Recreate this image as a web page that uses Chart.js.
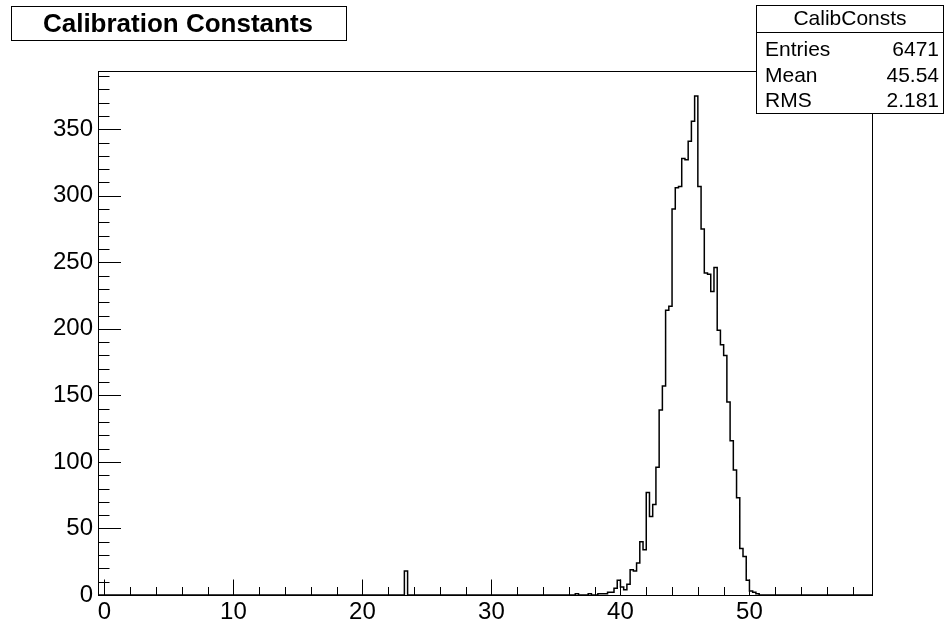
<!DOCTYPE html>
<html>
<head>
<meta charset="utf-8">
<script src="https://cdn.jsdelivr.net/npm/chart.js@4.4.0/dist/chart.umd.min.js"></script>
<style>
  html, body { margin: 0; padding: 0; background: #fff; }
  #wrap { width: 945px; height: 621px; }
</style>
</head>
<body>
<div id="wrap"><canvas id="histo" width="945" height="621"></canvas></div>
<script>
// histogram "CalibConsts": 240 bins of 0.25 from -0.5 to 59.5, only filled bins listed
const binWidth = 0.25;
const xRange = [-0.5, 59.5];
const yMax = 393.75;
const binLow = [
  23.25,
  36.5, 36.75, 37, 37.25, 37.5, 37.75, 38, 38.25, 38.5, 38.75,
  39, 39.25, 39.5, 39.75, 40, 40.25, 40.5, 40.75, 41, 41.25,
  41.5, 41.75, 42, 42.25, 42.5, 42.75, 43, 43.25, 43.5, 43.75,
  44, 44.25, 44.5, 44.75, 45, 45.25, 45.5, 45.75, 46, 46.25,
  46.5, 46.75, 47, 47.25, 47.5, 47.75, 48, 48.25, 48.5, 48.75,
  49, 49.25, 49.5, 49.75, 50, 50.25, 50.5
];
const counts = [
  18,
  1, 0, 0, 0, 1, 0, 0, 1, 1, 1,
  2, 2, 5, 11, 6, 4, 8, 19, 18, 24,
  40, 34, 77, 59, 68, 96, 139, 157, 214, 217,
  290, 306, 307, 328, 327, 341, 356, 375, 307, 275,
  242, 241, 228, 246, 199, 188, 180, 145, 116, 94,
  73, 35, 29, 11, 3, 2, 1
];
const xTickValues = [0, 10, 20, 30, 40, 50];
const yTickValues = [0, 50, 100, 150, 200, 250, 300, 350];
const statNames = ['Entries', 'Mean', 'RMS'];
const statValues = ['6471', '45.54', '2.181'];
const histName = 'CalibConsts';
const histTitle = 'Calibration Constants';

// outline points for a stepped line (value holds from left edge to next point)
const points = [{ x: xRange[0], y: 0 }];
binLow.forEach((lo, i) => {
  points.push({ x: lo, y: counts[i] });
  const next = binLow[i + 1];
  if (next === undefined || Math.abs(next - (lo + binWidth)) > 1e-6) {
    points.push({ x: lo + binWidth, y: 0 });
  }
});
points.push({ x: xRange[1], y: 0 });

const FONT = "'Liberation Sans', Arial, Helvetica, sans-serif";

const rootFrame = {
  id: 'rootFrame',
  afterDraw(chart) {
    const { ctx, chartArea: a, scales: { x, y } } = chart;
    ctx.save();
    ctx.strokeStyle = '#000';
    ctx.lineWidth = 1;
    ctx.strokeRect(Math.round(a.left) + 0.5, Math.round(a.top) + 0.5,
      Math.round(a.right - a.left), Math.round(a.bottom - a.top));

    // ticks drawn inward, ROOT style
    ctx.beginPath();
    for (let v = 0; v <= yMax; v += 10) {
      const py = Math.round(y.getPixelForValue(v)) + 0.5;
      const len = v % 50 === 0 ? 23 : 11.5;
      ctx.moveTo(a.left, py);
      ctx.lineTo(a.left + len, py);
    }
    for (let v = 0; v <= 58; v += 2) {
      const px = Math.round(x.getPixelForValue(v)) + 0.5;
      const len = v % 10 === 0 ? 15.5 : 8;
      ctx.moveTo(px, a.bottom);
      ctx.lineTo(px, a.bottom - len);
    }
    ctx.stroke();

    // title box
    ctx.fillStyle = '#fff';
    ctx.fillRect(11, 6, 336, 34);
    ctx.strokeRect(11.5, 6.5, 335, 34);
    ctx.fillStyle = '#000';
    ctx.font = 'bold 26px ' + FONT;
    ctx.textAlign = 'center';
    ctx.textBaseline = 'middle';
    ctx.fillText(histTitle, 178, 25);

    // stats box
    const bx = 756, by = 5, bw = 188, bh = 108;
    ctx.fillStyle = '#fff';
    ctx.fillRect(bx, by, bw, bh);
    ctx.strokeRect(bx + 0.5, by + 0.5, bw - 1, bh);
    ctx.beginPath();
    ctx.moveTo(bx, 32.5);
    ctx.lineTo(bx + bw, 32.5);
    ctx.stroke();
    ctx.fillStyle = '#000';
    ctx.font = '21px ' + FONT;
    ctx.textAlign = 'center';
    ctx.fillText(histName, bx + bw / 2, 19);
    const rowY = [50, 76.5, 101.5];
    statNames.forEach((n, i) => {
      ctx.textAlign = 'left';
      ctx.fillText(n, 765, rowY[i]);
      ctx.textAlign = 'right';
      ctx.fillText(statValues[i], 939, rowY[i]);
    });
    ctx.restore();
  }
};

new Chart(document.getElementById('histo'), {
  type: 'line',
  data: {
    datasets: [{
      data: points,
      stepped: 'before',
      borderColor: '#000',
      borderWidth: 1.5,
      pointRadius: 0,
      fill: false,
      tension: 0
    }]
  },
  options: {
    responsive: false,
    animation: false,
    layout: { padding: { left: 0, right: 73, top: 71, bottom: 0 } },
    plugins: { legend: { display: false }, tooltip: { enabled: false }, title: { display: false } },
    scales: {
      x: {
        type: 'linear',
        min: xRange[0],
        max: xRange[1],
        afterFit: s => { s.height = 26; },
        afterBuildTicks: s => { s.ticks = xTickValues.map(v => ({ value: v })); },
        ticks: { font: { family: FONT, size: 24 }, color: '#000', padding: 3, maxRotation: 0, autoSkip: false },
        grid: { display: false, drawTicks: false },
        border: { display: false }
      },
      y: {
        min: 0,
        max: yMax,
        afterFit: s => { s.width = 98; },
        afterBuildTicks: s => { s.ticks = yTickValues.map(v => ({ value: v })); },
        ticks: { font: { family: FONT, size: 24 }, color: '#000', padding: 5 },
        grid: { display: false, drawTicks: false },
        border: { display: false }
      }
    }
  },
  plugins: [rootFrame]
});
</script>
</body>
</html>
